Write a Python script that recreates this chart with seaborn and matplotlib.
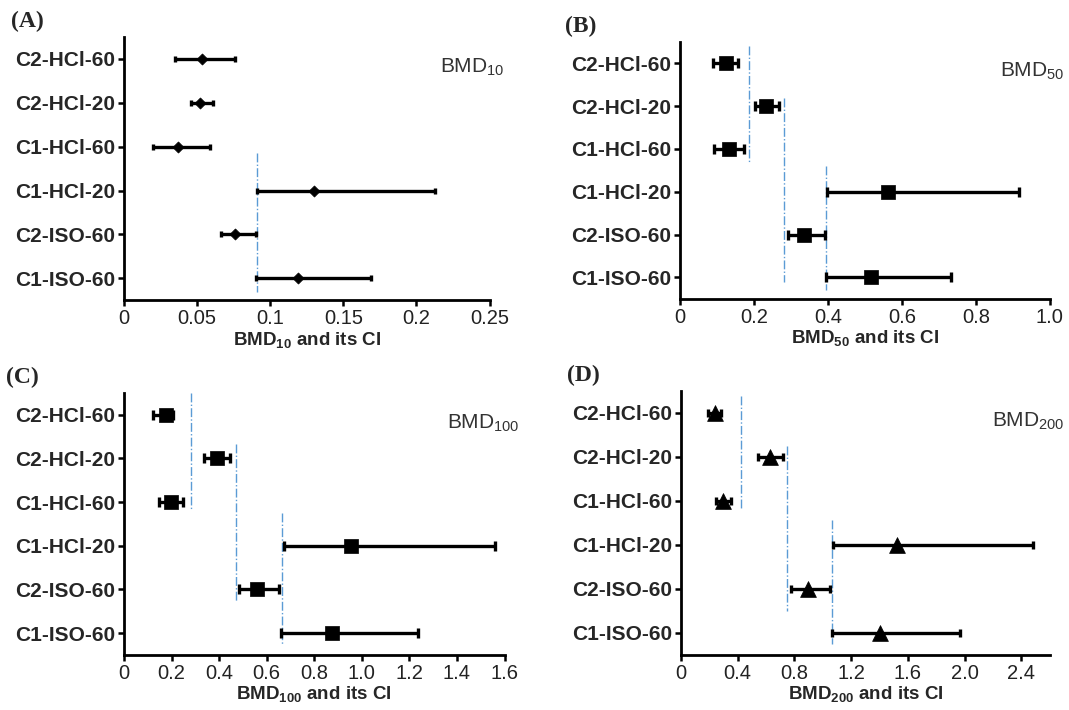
import numpy as np
import pandas as pd
import matplotlib
matplotlib.use("Agg")
import matplotlib.pyplot as plt
import seaborn as sns

# groups, top to bottom
groups = ["C2-HCl-60", "C2-HCl-20", "C1-HCl-60", "C1-HCl-20", "C2-ISO-60", "C1-ISO-60"]

# panel A - BMD10
a_est = [0.053, 0.052, 0.037, 0.130, 0.076, 0.119]
a_lo = [0.035, 0.046, 0.020, 0.091, 0.066, 0.090]
a_hi = [0.076, 0.061, 0.059, 0.213, 0.090, 0.169]
a_ref_x = [0.091]
a_ref_y0 = [2.15]
a_ref_y1 = [5.3]

# panel B - BMD50
b_est = [0.125, 0.232, 0.133, 0.563, 0.335, 0.518]
b_lo = [0.089, 0.202, 0.092, 0.398, 0.291, 0.394]
b_hi = [0.157, 0.268, 0.174, 0.917, 0.392, 0.732]
b_ref_x = [0.188, 0.282, 0.394]
b_ref_y0 = [-0.4, 0.8, 2.4]
b_ref_y1 = [2.33, 5.1, 5.3]

# panel C - BMD100
c_est = [0.175, 0.389, 0.197, 0.953, 0.560, 0.875]
c_lo = [0.123, 0.337, 0.148, 0.672, 0.484, 0.662]
c_hi = [0.204, 0.445, 0.246, 1.558, 0.652, 1.236]
c_ref_x = [0.280, 0.470, 0.666]
c_ref_y0 = [-0.5, 0.67, 2.24]
c_ref_y1 = [2.17, 4.28, 5.27]

# panel D - BMD200
d_est = [0.237, 0.625, 0.298, 1.523, 0.898, 1.400]
d_lo = [0.189, 0.540, 0.245, 1.073, 0.777, 1.063]
d_hi = [0.280, 0.717, 0.351, 2.482, 1.053, 1.969]
d_ref_x = [0.426, 0.748, 1.065]
d_ref_y0 = [-0.38, 0.75, 2.44]
d_ref_y1 = [2.18, 4.5, 5.26]

sns.set_style("ticks")
plt.rcParams["font.family"] = ["Liberation Sans", "DejaVu Sans"]
plt.rcParams["mathtext.fontset"] = "custom"
plt.rcParams["mathtext.rm"] = "Liberation Sans"
plt.rcParams["mathtext.bf"] = "Liberation Sans:bold"

fig = plt.figure(figsize=(10.69, 7.10), dpi=100)

panels = [
    dict(pos=[0.116, 0.577, 0.342, 0.371], est=a_est, lo=a_lo, hi=a_hi,
         rx=a_ref_x, ry0=a_ref_y0, ry1=a_ref_y1, marker="D", ms=32, cap=2.2,
         xlim=(0, 0.25), ticks=[0, 0.05, 0.1, 0.15, 0.2, 0.25],
         tlab=["0", "0.05", "0.1", "0.15", "0.2", "0.25"], sub="10", tag="(A)"),
    dict(pos=[0.636, 0.579, 0.346, 0.362], est=b_est, lo=b_lo, hi=b_hi,
         rx=b_ref_x, ry0=b_ref_y0, ry1=b_ref_y1, marker="s", ms=110, cap=3.5,
         xlim=(0, 1.0), ticks=[0, 0.2, 0.4, 0.6, 0.8, 1.0],
         tlab=["0", "0.2", "0.4", "0.6", "0.8", "1.0"], sub="50", tag="(B)"),
    dict(pos=[0.116, 0.0775, 0.356, 0.369], est=c_est, lo=c_lo, hi=c_hi,
         rx=c_ref_x, ry0=c_ref_y0, ry1=c_ref_y1, marker="s", ms=110, cap=3.5,
         xlim=(0, 1.6), ticks=[0, 0.2, 0.4, 0.6, 0.8, 1.0, 1.2, 1.4, 1.6],
         tlab=["0", "0.2", "0.4", "0.6", "0.8", "1.0", "1.2", "1.4", "1.6"], sub="100", tag="(C)"),
    dict(pos=[0.637, 0.0775, 0.345, 0.372], est=d_est, lo=d_lo, hi=d_hi,
         rx=d_ref_x, ry0=d_ref_y0, ry1=d_ref_y1, marker="^", ms=130, cap=3.0,
         xlim=(0, 2.6), ticks=[0, 0.4, 0.8, 1.2, 1.6, 2.0, 2.4],
         tlab=["0", "0.4", "0.8", "1.2", "1.6", "2.0", "2.4"], sub="200", tag="(D)"),
]

rows = np.arange(len(groups))

for p in panels:
    ax = fig.add_axes(p["pos"])
    df = pd.DataFrame({"group": groups, "row": rows, "est": p["est"],
                       "lo": p["lo"], "hi": p["hi"]})

    # reference lines
    ax.vlines(p["rx"], p["ry0"], p["ry1"], colors="#5B9BD5", linestyles="dashdot",
              linewidth=1.0, zorder=1)

    # confidence intervals
    xerr = np.vstack([df["est"] - df["lo"], df["hi"] - df["est"]])
    ax.errorbar(df["est"], df["row"], xerr=xerr, fmt="none", ecolor="black",
                elinewidth=2.4, capsize=p["cap"], capthick=2.4, zorder=2)
    sns.scatterplot(data=df, x="est", y="row", marker=p["marker"], s=p["ms"],
                    color="black", edgecolor="black", linewidth=0.5, ax=ax, zorder=3,
                    legend=False)

    ax.set_xlim(*p["xlim"])
    ax.set_ylim(5.5, -0.5)
    ax.set_xticks(p["ticks"])
    ax.set_xticklabels(p["tlab"], fontsize=14.5, color="#222222")
    ax.set_yticks(rows)
    ax.set_yticklabels(groups, fontsize=15, fontweight="bold")
    ax.set_ylabel("")
    ax.set_xlabel(r"$\mathbf{BMD_{%s}}$ and its CI" % p["sub"], fontsize=13.5,
                  fontweight="bold", labelpad=1)
    for s in ["top", "right"]:
        ax.spines[s].set_visible(False)
    for s in ["left", "bottom"]:
        ax.spines[s].set_linewidth(2.0)
        ax.spines[s].set_color("black")
    ax.tick_params(axis="both", width=1.8, length=4.5, color="black", pad=2)

    ax.text(1.04, 0.885, r"BMD$_{%s}$" % p["sub"], transform=ax.transAxes, ha="right",
            va="center", fontsize=15, color="#333333")
    ax.text(-0.31, 1.06, p["tag"], transform=ax.transAxes, ha="left", va="center",
            fontsize=17, fontweight="bold", family="Liberation Serif")

fig.savefig("out.png", dpi=100)
